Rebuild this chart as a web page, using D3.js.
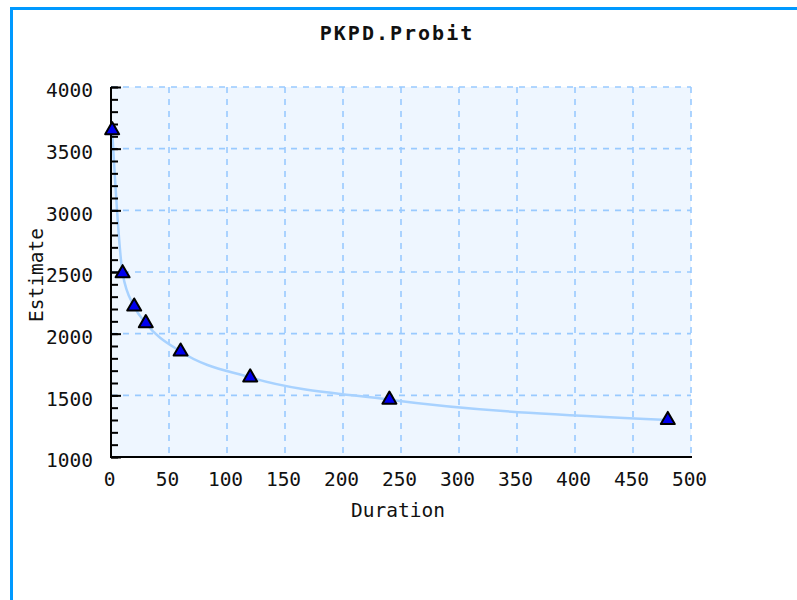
<!DOCTYPE html>
<html>
<head>
<meta charset="utf-8">
<script src="https://cdnjs.cloudflare.com/ajax/libs/d3/7.8.5/d3.min.js"></script>
<style>
  body { margin: 0; background: #ffffff; }
  text { font-family: "DejaVu Sans Mono", monospace; fill: #111; }
</style>
</head>
<body>
<div id="chart"></div>
<script>
// data
const durations = [1, 10, 20, 30, 60, 120, 240, 480];
const estimates = [3650, 2490, 2220, 2085, 1855, 1645, 1465, 1300];
const xTicks = [0, 50, 100, 150, 200, 250, 300, 350, 400, 450, 500];
const yTicks = [1000, 1500, 2000, 2500, 3000, 3500, 4000];
const yMinorTicks = d3.range(1000, 4001, 100);

const svg_width = 797;
const svg_height = 600;

// plot area
const plotLeft = 111, plotRight = 691;
const plotTop = 87, plotBottom = 457;

let svg = d3.select("#chart")
  .append("svg")
    .attr("width", svg_width)
    .attr("height", svg_height);

// blue frame (top and left only)
svg.append("rect")
    .attr("x", 10).attr("y", 7)
    .attr("width", svg_width - 10).attr("height", 3)
    .attr("fill", "#0099ff");
svg.append("rect")
    .attr("x", 10).attr("y", 7)
    .attr("width", 3).attr("height", svg_height - 7)
    .attr("fill", "#0099ff");

const x = d3.scaleLinear().domain([0, 500]).range([plotLeft, plotRight]);
const y = d3.scaleLinear().domain([1000, 4000]).range([plotBottom, plotTop]);

// plot background
svg.append("rect")
    .attr("x", plotLeft).attr("y", plotTop)
    .attr("width", plotRight - plotLeft).attr("height", plotBottom - plotTop)
    .attr("fill", "#eef6ff");

// dashed grid
const grid = svg.append("g")
    .attr("stroke", "#99caff")
    .attr("stroke-width", 1.6)
    .attr("stroke-dasharray", "6,6");

grid.selectAll(".vgrid")
  .data(xTicks.filter(d => d > 0))
  .enter().append("line")
    .attr("x1", d => x(d)).attr("x2", d => x(d))
    .attr("y1", plotTop).attr("y2", plotBottom);

grid.selectAll(".hgrid")
  .data(yTicks.filter(d => d > 1000))
  .enter().append("line")
    .attr("x1", plotLeft).attr("x2", plotRight)
    .attr("y1", d => y(d)).attr("y2", d => y(d));

// fitted curve
const pts = durations.map((d, i) => [d, estimates[i]]);
svg.append("path")
    .datum(pts)
    .attr("fill", "none")
    .attr("stroke", "#a8d2ff")
    .attr("stroke-width", 2.5)
    .attr("d", d3.line()
        .x(d => x(d[0]))
        .y(d => y(d[1]))
        .curve(d3.curveMonotoneX));

// minor ticks on the y axis, pointing inward
svg.append("g")
    .attr("transform", `translate(${plotLeft},0)`)
    .call(d3.axisLeft(y).tickValues(yMinorTicks).tickSizeInner(-7).tickSizeOuter(0).tickFormat(""))
    .call(g => g.select(".domain").remove())
    .selectAll("line").attr("stroke", "#000").attr("stroke-width", 2);

// y axis with major ticks and labels
let yAxis = svg.append("g")
    .attr("transform", `translate(${plotLeft},0)`)
    .call(d3.axisLeft(y).tickValues(yTicks).tickSizeInner(-10).tickSizeOuter(0).tickPadding(18).tickFormat(d3.format("d")));
yAxis.select(".domain").remove();
yAxis.selectAll("line").attr("stroke", "#000").attr("stroke-width", 2);
yAxis.selectAll("text")
    .attr("dy", "0.5em")
    .attr("fill", "#111")
    .style("font-size", "19.5px")
    .style("font-family", "'DejaVu Sans Mono', monospace");

// x axis labels, no ticks
let xAxis = svg.append("g")
    .attr("transform", `translate(0,${plotBottom})`)
    .call(d3.axisBottom(x).tickValues(xTicks).tickSize(0).tickPadding(15).tickFormat(d3.format("d")));
xAxis.select(".domain").remove();
xAxis.selectAll("text")
    .attr("x", -2)
    .attr("fill", "#111")
    .style("font-size", "19.5px")
    .style("font-family", "'DejaVu Sans Mono', monospace");

// axis lines
svg.append("line")
    .attr("x1", plotLeft).attr("x2", plotLeft)
    .attr("y1", plotTop).attr("y2", plotBottom + 1)
    .attr("stroke", "#000").attr("stroke-width", 2);
svg.append("line")
    .attr("x1", plotLeft - 1).attr("x2", plotRight + 1)
    .attr("y1", plotBottom).attr("y2", plotBottom)
    .attr("stroke", "#000").attr("stroke-width", 2);

// markers
svg.selectAll(".marker")
  .data(pts)
  .enter().append("path")
    .attr("transform", d => `translate(${x(d[0])},${y(d[1])})`)
    .attr("d", d3.symbol().type(d3.symbolTriangle).size(85))
    .attr("fill", "#0000ee")
    .attr("stroke", "#000")
    .attr("stroke-width", 2)
    .attr("stroke-linejoin", "round");

// titles
svg.append("text")
    .attr("x", 397).attr("y", 40)
    .attr("text-anchor", "middle")
    .style("font-size", "20px")
    .style("font-weight", "bold")
    .style("letter-spacing", "2px")
    .text("PKPD.Probit");

svg.append("text")
    .attr("x", 398).attr("y", 517)
    .attr("text-anchor", "middle")
    .style("font-size", "19.5px")
    .text("Duration");

svg.append("text")
    .attr("transform", "translate(43,275) rotate(-90)")
    .attr("text-anchor", "middle")
    .style("font-size", "19.5px")
    .text("Estimate");
</script>
</body>
</html>
